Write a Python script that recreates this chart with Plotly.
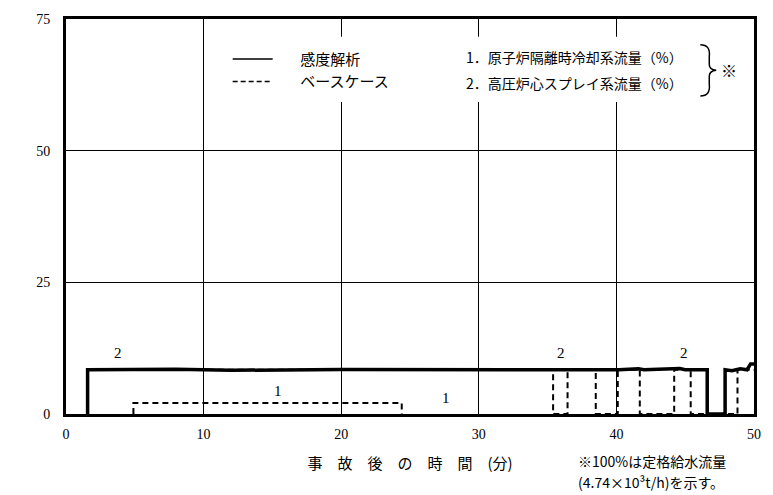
import plotly.graph_objects as go

# sensitivity analysis - HPCS flow (%)
sens_hpcs_t = [1.57, 1.57, 8.0, 12.0, 20.0, 30.0, 40.2, 41.6, 42.0, 44.6, 45.0, 46.6, 46.6, 47.9, 47.9, 48.4, 49.0, 49.5, 49.75, 50.0]
sens_hpcs_q = [0.0, 8.4, 8.5, 8.3, 8.45, 8.4, 8.4, 8.6, 8.4, 8.65, 8.4, 8.4, 0.0, 0.0, 8.4, 8.2, 8.6, 8.4, 9.5, 9.5]

# base case - RCIC flow (%)
base_rcic_t = [4.9, 4.9, 24.4, 24.4]
base_rcic_q = [0.0, 2.1, 2.1, 0.0]

# base case - HPCS flow (%), cycling on/off near the end
base_hpcs_t = [1.57, 35.4, 35.4, 36.45, 36.45, 38.5, 38.5, 40.1, 40.1, 41.7, 41.7, 44.2, 44.2, 45.4, 45.4, 48.8, 48.8, 50.0]
base_hpcs_q = [8.4, 8.4, 0.0, 0.0, 8.4, 8.4, 0.0, 0.0, 8.4, 8.4, 0.0, 0.0, 8.4, 8.4, 0.0, 0.0, 8.4, 8.4]

x_ticks = [0, 10, 20, 30, 40, 50]
y_ticks = [0, 25, 50, 75]

# curve numbers written next to the lines
label_x = [3.8, 36.0, 44.9, 15.4, 27.6]
label_y = [11.6, 11.6, 11.6, 4.4, 3.0]
label_text = ['2', '2', '2', '1', '1']

serif = 'Liberation Serif, DejaVu Serif, serif'
jp = 'Noto Sans CJK JP'

fig = go.Figure()

fig.add_trace(go.Scatter(x=base_rcic_t, y=base_rcic_q, mode='lines',
                         line=dict(color='black', width=2, dash='6px,4px'), showlegend=False))
fig.add_trace(go.Scatter(x=base_hpcs_t, y=base_hpcs_q, mode='lines',
                         line=dict(color='black', width=2, dash='6px,4px'), showlegend=False))
fig.add_trace(go.Scatter(x=sens_hpcs_t, y=sens_hpcs_q, mode='lines',
                         line=dict(color='black', width=3.5), showlegend=False))

# legend entries (thin sample lines like the original key)
fig.add_trace(go.Scatter(x=[None], y=[None], mode='lines', line=dict(color='black', width=1.5),
                         name='\u3000\u2002感度解析', legendrank=1))
fig.add_trace(go.Scatter(x=[None], y=[None], mode='lines',
                         line=dict(color='black', width=1.5, dash='5px,3px'),
                         name='\u3000\u2002ベースケース', legendrank=2))

for lx, ly, lt in zip(label_x, label_y, label_text):
    fig.add_annotation(x=lx, y=ly, text=lt, showarrow=False,
                       font=dict(family=serif, size=15, color='black'))

# white box behind the legend block (hides the grid there)
fig.add_shape(type='rect', xref='paper', yref='paper', x0=0.215, x1=0.985, y0=0.79, y1=0.955,
              fillcolor='white', line=dict(width=0), layer='above')

# brace + note mark
fig.add_shape(type='path', xref='paper', yref='paper',
              path='M 0.922,0.935 Q 0.937,0.935 0.935,0.905 L 0.935,0.885 Q 0.935,0.872 0.945,0.870 '
                   'Q 0.935,0.868 0.935,0.855 L 0.935,0.835 Q 0.937,0.805 0.922,0.805',
              line=dict(color='black', width=1.5), layer='above')
fig.add_annotation(xref='paper', yref='paper', x=0.949, y=0.872, xanchor='left', yanchor='middle',
                   text='※', showarrow=False, font=dict(family=jp, size=16, color='black'))
fig.add_annotation(xref='paper', yref='paper', x=0.578, y=0.905, xanchor='left', yanchor='middle',
                   text='1．原子炉隔離時冷却系流量（%）', showarrow=False,
                   font=dict(family=jp, size=14, color='black'))
fig.add_annotation(xref='paper', yref='paper', x=0.578, y=0.838, xanchor='left', yanchor='middle',
                   text='2．高圧炉心スプレイ系流量（%）', showarrow=False,
                   font=dict(family=jp, size=14, color='black'))

# note under the axis
fig.add_annotation(xref='paper', yref='paper', x=0.742, y=-0.118, xanchor='left', yanchor='middle',
                   text='※100%は定格給水流量', showarrow=False,
                   font=dict(family=jp, size=14, color='black'))
fig.add_annotation(xref='paper', yref='paper', x=0.742, y=-0.172, xanchor='left', yanchor='middle',
                   text='(4.74×10³t/h)を示す。', showarrow=False,
                   font=dict(family=jp, size=14, color='black'))

fig.update_layout(
    width=773, height=495,
    margin=dict(l=66, r=16, t=17, b=81),
    paper_bgcolor='white', plot_bgcolor='white',
    legend=dict(x=0.235, y=0.94, xanchor='left', yanchor='top',
                font=dict(family=jp, size=15, color='black'),
                bgcolor='rgba(0,0,0,0)', borderwidth=0,
                itemwidth=40, tracegroupgap=0),
    xaxis=dict(range=[0, 50], tickvals=x_ticks, showgrid=True, gridcolor='black', gridwidth=1.3,
               showline=True, linecolor='black', linewidth=3, mirror=True, zeroline=False,
               ticks='', ticklabelstandoff=5, tickfont=dict(family=serif, size=14, color='black'),
               title=dict(text='事　故　後　の　時　間　(分)', font=dict(family=jp, size=15, color='black'),
                          standoff=18)),
    yaxis=dict(range=[0, 75], tickvals=y_ticks, showgrid=True, gridcolor='black', gridwidth=1.3,
               showline=True, linecolor='black', linewidth=3, mirror=True, zeroline=False,
               ticks='', ticklabelstandoff=10, tickfont=dict(family=serif, size=14, color='black')),
)

fig.write_html("out.html", config={'displayModeBar': False},
               post_script="document.body.style.margin='0';")
